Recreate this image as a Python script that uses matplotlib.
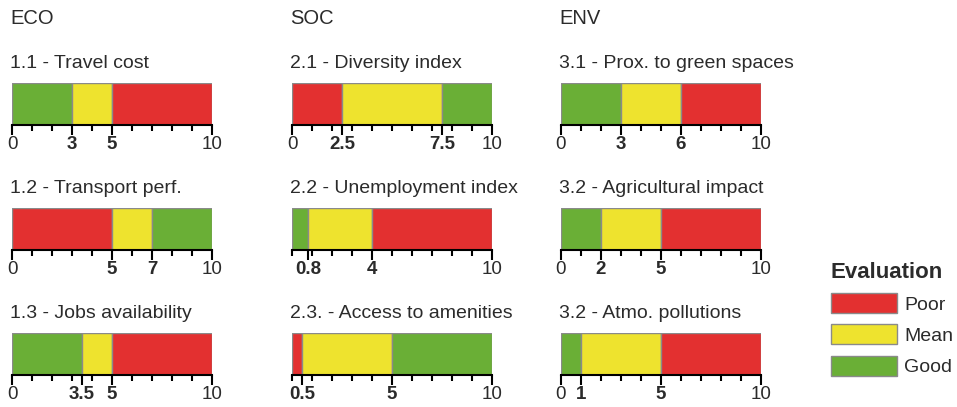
import matplotlib.pyplot as plt
from matplotlib.patches import Patch

plt.rcParams['font.family'] = ['Liberation Sans', 'DejaVu Sans']

# colours of the three evaluation classes
COLORS = {'Poor': '#e33030', 'Mean': '#eee32e', 'Good': '#6aaf36'}
TEXT = '#2b2b2b'

groups = ['ECO', 'SOC', 'ENV']

titles = [
    ['1.1 - Travel cost', '1.2 - Transport perf.', '1.3 - Jobs availability'],
    ['2.1 - Diversity index', '2.2 - Unemployment index', '2.3. - Access to amenities'],
    ['3.1 - Prox. to green spaces', '3.2 - Agricultural impact', '3.2 - Atmo. pollutions'],
]

# class boundaries (start of 2nd and 3rd segment) and class order
bounds = [
    [(3, 5), (5, 7), (3.5, 5)],
    [(2.5, 7.5), (0.8, 4), (0.5, 5)],
    [(3, 6), (2, 5), (1, 5)],
]
orders = [
    [('Good', 'Mean', 'Poor'), ('Poor', 'Mean', 'Good'), ('Good', 'Mean', 'Poor')],
    [('Poor', 'Mean', 'Good'), ('Good', 'Mean', 'Poor'), ('Poor', 'Mean', 'Good')],
    [('Good', 'Mean', 'Poor'), ('Good', 'Mean', 'Poor'), ('Good', 'Mean', 'Poor')],
]
tick_labels = [
    [[0, 3, 5, 10], [0, 5, 7, 10], [0, 3.5, 5, 10]],
    [[0, 2.5, 7.5, 10], [0.8, 4, 10], [0.5, 5, 10]],
    [[0, 3, 6, 10], [0, 2, 5, 10], [0, 1, 5, 10]],
]

W, H = 957, 407
fig = plt.figure(figsize=(W / 100, H / 100), dpi=100)

col_x = [12, 292, 561]
row_bottom = [125, 250, 375]
bar_w, bar_h = 200, 42

for c in range(3):
    fig.text((col_x[c] - 2) / W, 1 - 18 / H, groups[c], fontsize=14.5,
             color=TEXT, va='center', ha='left')
    for r in range(3):
        x0 = col_x[c]
        yb = row_bottom[r]
        ax = fig.add_axes([x0 / W, 1 - yb / H, bar_w / W, bar_h / H])
        b1, b2 = bounds[c][r]
        edges = [0, b1, b2, 10]
        for i, cls in enumerate(orders[c][r]):
            ax.barh(0, edges[i + 1] - edges[i], left=edges[i], height=1,
                    color=COLORS[cls], edgecolor='#8a8a8a', linewidth=1)
        ax.set_xlim(0, 10)
        ax.set_ylim(-0.5, 0.5)
        ax.set_yticks([])
        for s in ['top', 'left', 'right']:
            ax.spines[s].set_visible(False)
        ax.spines['bottom'].set_linewidth(1.5)
        ax.spines['bottom'].set_color('black')
        ax.set_xticks(range(11), minor=True)
        ticks = tick_labels[c][r]
        ax.set_xticks(ticks)
        ax.set_xticklabels([f'{t:g}' for t in ticks])
        for t, lab in zip(ticks, ax.get_xticklabels()):
            if t not in (0, 10):
                lab.set_fontweight('bold')
        ax.tick_params(axis='x', which='major', length=7, width=1.5,
                       labelsize=13.5, labelcolor=TEXT, pad=1)
        ax.tick_params(axis='x', which='minor', length=4.5, width=1.5)
        fig.text((x0 - 2) / W, 1 - (yb - bar_h - 20) / H, titles[c][r],
                 fontsize=14, color=TEXT, va='center', ha='left')

handles = [Patch(facecolor=COLORS[k], edgecolor='#8a8a8a', label=k)
           for k in ['Poor', 'Mean', 'Good']]
leg = fig.legend(handles=handles, title='Evaluation', loc='upper left',
                 bbox_to_anchor=(813 / W, 1 - 244 / H), frameon=False,
                 fontsize=14, handlelength=3.4, handleheight=1.2,
                 labelspacing=0.55, handletextpad=0.4, alignment='left',
                 title_fontproperties={'weight': 'bold', 'size': 16})
leg.get_title().set_color(TEXT)
for t in leg.get_texts():
    t.set_color(TEXT)

fig.savefig('out.png', dpi=100)
